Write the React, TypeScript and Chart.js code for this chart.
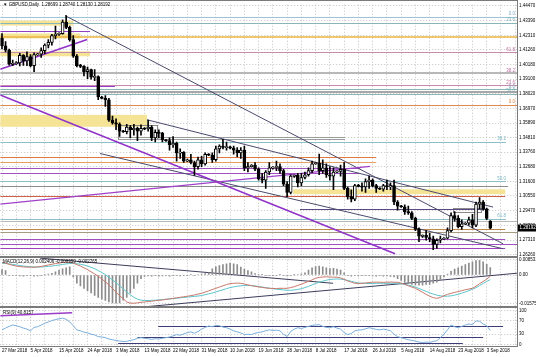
import React, { useEffect, useRef } from 'react';
import { Chart, registerables } from 'chart.js';

Chart.register(...registerables);

// ---------------- data ----------------
const dateTicks = ['27 Mar 2018', '5 Apr 2018', '15 Apr 2018', '24 Apr 2018', '3 May 2018', '13 May 2018', '22 May 2018', '31 May 2018', '10 Jun 2018', '19 Jun 2018', '28 Jun 2018', '8 Jul 2018', '17 Jul 2018', '26 Jul 2018', '5 Aug 2018', '14 Aug 2018', '23 Aug 2018', '3 Sep 2018'];

const opens = [
  1.4212, 1.4155, 1.4124, 1.4021, 1.4026, 1.4030, 1.4085, 1.4044, 1.4076, 1.4010,
  1.4090, 1.4094, 1.4120, 1.4160, 1.4180, 1.4230, 1.4240, 1.4245, 1.4330, 1.4290,
  1.4200, 1.4080, 1.4010, 1.4005, 1.3965, 1.3980, 1.3925, 1.3930, 1.3780, 1.3770,
  1.3760, 1.3610, 1.3590, 1.3580, 1.3530, 1.3525, 1.3560, 1.3540, 1.3550, 1.3530,
  1.3550, 1.3545, 1.3560, 1.3480, 1.3520, 1.3515, 1.3465, 1.3460, 1.3430, 1.3440,
  1.3370, 1.3375, 1.3310, 1.3320, 1.3300, 1.3270, 1.3320, 1.3290, 1.3360, 1.3355,
  1.3320, 1.3400, 1.3420, 1.3410, 1.3415, 1.3405, 1.3390, 1.3370, 1.3390, 1.3260,
  1.3270, 1.3280, 1.3250, 1.3180, 1.3170, 1.3230, 1.3260, 1.3265, 1.3270, 1.3240,
  1.3140, 1.3080, 1.3200, 1.3205, 1.3150, 1.3190, 1.3210, 1.3240, 1.3290, 1.3295,
  1.3240, 1.3260, 1.3210, 1.3200, 1.3230, 1.3235, 1.3250, 1.3110, 1.3050, 1.3030,
  1.3130, 1.3125, 1.3120, 1.3160, 1.3170, 1.3130, 1.3110, 1.3105, 1.3130, 1.3120,
  1.3130, 1.3010, 1.2980, 1.2975, 1.2940, 1.2930, 1.2890, 1.2810, 1.2760, 1.2765,
  1.2750, 1.2740, 1.2700, 1.2730, 1.2740, 1.2745, 1.2800, 1.2910, 1.2890, 1.2830,
  1.2850, 1.2855, 1.2880, 1.2840, 1.2995, 1.3010, 1.2960, 1.28699,
];
const highs = [
  1.4245, 1.4187, 1.4132, 1.4050, 1.4040, 1.4100, 1.4090, 1.4111, 1.4090, 1.4103,
  1.4100, 1.4140, 1.4170, 1.4200, 1.4240, 1.4300, 1.4250, 1.4345, 1.4377, 1.4300,
  1.4230, 1.4090, 1.4020, 1.4010, 1.4000, 1.3985, 1.3980, 1.3935, 1.3785, 1.3790,
  1.3770, 1.3640, 1.3620, 1.3590, 1.3535, 1.3580, 1.3570, 1.3580, 1.3560, 1.3575,
  1.3555, 1.3610, 1.3570, 1.3540, 1.3540, 1.3520, 1.3470, 1.3480, 1.3490, 1.3450,
  1.3400, 1.3380, 1.3325, 1.3360, 1.3310, 1.3340, 1.3345, 1.3370, 1.3365, 1.3370,
  1.3420, 1.3430, 1.3470, 1.3450, 1.3420, 1.3420, 1.3410, 1.3410, 1.3420, 1.3300,
  1.3285, 1.3300, 1.3260, 1.3220, 1.3240, 1.3300, 1.3270, 1.3310, 1.3290, 1.3250,
  1.3160, 1.3210, 1.3210, 1.3220, 1.3220, 1.3230, 1.3260, 1.3310, 1.3300, 1.3362,
  1.3320, 1.3290, 1.3270, 1.3260, 1.3240, 1.3280, 1.3300, 1.3120, 1.3100, 1.3140,
  1.3140, 1.3150, 1.3180, 1.3200, 1.3180, 1.3140, 1.3115, 1.3140, 1.3170, 1.3150,
  1.3170, 1.3020, 1.2985, 1.2990, 1.2980, 1.2940, 1.2900, 1.2820, 1.2770, 1.2800,
  1.2780, 1.2760, 1.2740, 1.2760, 1.2750, 1.2820, 1.2930, 1.2940, 1.2910, 1.2880,
  1.2860, 1.2900, 1.2920, 1.3010, 1.3043, 1.3020, 1.2965, 1.28740,
];
const lows = [
  1.4133, 1.4110, 1.4013, 1.4010, 1.4018, 1.4008, 1.4011, 1.4010, 1.4000, 1.3965,
  1.4085, 1.4070, 1.4098, 1.4140, 1.4160, 1.4205, 1.4232, 1.4240, 1.4280, 1.4190,
  1.4070, 1.4000, 1.3995, 1.3935, 1.3915, 1.3910, 1.3900, 1.3760, 1.3765, 1.3711,
  1.3600, 1.3580, 1.3540, 1.3490, 1.3520, 1.3510, 1.3480, 1.3500, 1.3460, 1.3500,
  1.3540, 1.3530, 1.3460, 1.3450, 1.3480, 1.3450, 1.3455, 1.3390, 1.3410, 1.3310,
  1.3330, 1.3300, 1.3305, 1.3290, 1.3205, 1.3250, 1.3270, 1.3280, 1.3350, 1.3300,
  1.3310, 1.3370, 1.3400, 1.3390, 1.3400, 1.3360, 1.3340, 1.3330, 1.3240, 1.3230,
  1.3265, 1.3240, 1.3170, 1.3150, 1.3110, 1.3210, 1.3250, 1.3240, 1.3220, 1.3130,
  1.3050, 1.3070, 1.3190, 1.3120, 1.3130, 1.3180, 1.3200, 1.3225, 1.3285, 1.3210,
  1.3220, 1.3190, 1.3170, 1.3100, 1.3225, 1.3200, 1.3100, 1.3030, 1.3010, 1.3020,
  1.3120, 1.3090, 1.3080, 1.3110, 1.3120, 1.3080, 1.3100, 1.3090, 1.3100, 1.3100,
  1.2990, 1.2950, 1.2970, 1.2920, 1.2920, 1.2880, 1.2800, 1.2720, 1.2750, 1.2730,
  1.2720, 1.2661, 1.2670, 1.2710, 1.2735, 1.2740, 1.2790, 1.2870, 1.2820, 1.2810,
  1.2845, 1.2840, 1.2820, 1.2830, 1.2960, 1.2950, 1.2880, 1.28130,
];
const closes = [
  1.4155, 1.4124, 1.4021, 1.4026, 1.4030, 1.4085, 1.4044, 1.4076, 1.4010, 1.4090,
  1.4094, 1.4120, 1.4160, 1.4180, 1.4230, 1.4240, 1.4245, 1.4330, 1.4290, 1.4200,
  1.4080, 1.4010, 1.4005, 1.3965, 1.3980, 1.3925, 1.3930, 1.3780, 1.3770, 1.3760,
  1.3610, 1.3590, 1.3580, 1.3530, 1.3525, 1.3560, 1.3540, 1.3550, 1.3530, 1.3550,
  1.3545, 1.3560, 1.3480, 1.3520, 1.3515, 1.3465, 1.3460, 1.3430, 1.3440, 1.3370,
  1.3375, 1.3310, 1.3320, 1.3300, 1.3270, 1.3320, 1.3290, 1.3360, 1.3355, 1.3320,
  1.3400, 1.3420, 1.3410, 1.3415, 1.3405, 1.3390, 1.3370, 1.3390, 1.3260, 1.3270,
  1.3280, 1.3250, 1.3180, 1.3170, 1.3230, 1.3260, 1.3265, 1.3270, 1.3240, 1.3140,
  1.3080, 1.3200, 1.3205, 1.3150, 1.3190, 1.3210, 1.3240, 1.3290, 1.3295, 1.3240,
  1.3260, 1.3210, 1.3200, 1.3230, 1.3235, 1.3250, 1.3110, 1.3050, 1.3030, 1.3130,
  1.3125, 1.3120, 1.3160, 1.3170, 1.3130, 1.3110, 1.3105, 1.3130, 1.3120, 1.3130,
  1.3010, 1.2980, 1.2975, 1.2940, 1.2930, 1.2890, 1.2810, 1.2760, 1.2765, 1.2750,
  1.2740, 1.2700, 1.2730, 1.2740, 1.2745, 1.2800, 1.2910, 1.2890, 1.2830, 1.2850,
  1.2855, 1.2880, 1.2840, 1.2995, 1.3010, 1.2960, 1.2890, 1.28192,
];

const macdHist = [
  0.0030, 0.0025, -0.0003, -0.0004, -0.0002, -0.0005, -0.0006, -0.0004, -0.0003, -0.0007,
  -0.0005, -0.0002, 0.0002, 0.0005, 0.0010, 0.0018, 0.0026, 0.0034, 0.0040, 0.0045,
  -0.0010, -0.0046, -0.0060, -0.0074, -0.0088, -0.0100, -0.0113, -0.0125, -0.0135, -0.0142,
  -0.0150, -0.0155, -0.0157, -0.0155, -0.0140, -0.0125, -0.0100, -0.0074, -0.0045, -0.0020,
  -0.0008, -0.0005, -0.0006, -0.0004, -0.0007, -0.0005, -0.0003, -0.0006, -0.0004, -0.0002,
  -0.0005, -0.0003, -0.0001, 0.0002, -0.0002, 0.0003, 0.0005, 0.0008, 0.0012, 0.0035,
  0.0045, 0.0052, 0.0058, 0.0063, 0.0066, 0.0063, 0.0058, 0.0044, 0.0033, 0.0025,
  0.0018, 0.0008, 0.0004, 0.0002, -0.0002, -0.0004, -0.0003, -0.0001, 0.0002, -0.0003,
  -0.0005, -0.0002, 0.0001, 0.0003, 0.0006, 0.0012, 0.0028, 0.0040, 0.0047, 0.0050,
  0.0045, 0.0040, 0.0036, 0.0038, 0.0033, 0.0028, 0.0012, -0.0004, -0.0006, -0.0003,
  -0.0005, -0.0002, -0.0004, -0.0003, -0.0005, -0.0006, -0.0004, -0.0007, -0.0005, -0.0008,
  -0.0010, -0.0020, -0.0030, -0.0040, -0.0046, -0.0052, -0.0057, -0.0057, -0.0057, -0.0052,
  -0.0052, -0.0045, -0.0040, -0.0025, -0.0010, 0.0005, 0.0020, 0.0033, 0.0040, 0.0050,
  0.0058, 0.0066, 0.0074, 0.0080, 0.0082, 0.0074, 0.0060, 0.0042,
];
const macdMain = [
  0.0071, 0.0066, 0.0060, 0.0054, 0.0050, 0.0047, 0.0045, 0.0044, 0.0044, 0.0043,
  0.0045, 0.0048, 0.0052, 0.0056, 0.0060, 0.0064, 0.0067, 0.0070, 0.0072, 0.0071,
  0.0066, 0.0058, 0.0050, 0.0040, 0.0030, 0.0018, 0.0006, -0.0007, -0.0022, -0.0038,
  -0.0055, -0.0075, -0.0096, -0.0115, -0.0132, -0.0150, -0.0157, -0.0157, -0.0155, -0.0152,
  -0.0150, -0.0148, -0.0146, -0.0143, -0.0141, -0.0139, -0.0136, -0.0133, -0.0130, -0.0127,
  -0.0124, -0.0121, -0.0118, -0.0115, -0.0111, -0.0106, -0.0102, -0.0095, -0.0088, -0.0081,
  -0.0074, -0.0067, -0.0060, -0.0053, -0.0048, -0.0046, -0.0045, -0.0046, -0.0050, -0.0055,
  -0.0059, -0.0063, -0.0066, -0.0069, -0.0072, -0.0074, -0.0075, -0.0075, -0.0074, -0.0074,
  -0.0074, -0.0070, -0.0065, -0.0058, -0.0051, -0.0043, -0.0035, -0.0027, -0.0018, -0.0013,
  -0.0011, -0.0010, -0.0011, -0.0012, -0.0012, -0.0016, -0.0024, -0.0033, -0.0040, -0.0046,
  -0.0047, -0.0046, -0.0044, -0.0042, -0.0040, -0.0040, -0.0040, -0.0041, -0.0040, -0.0039,
  -0.0040, -0.0040, -0.0045, -0.0052, -0.0060, -0.0067, -0.0074, -0.0085, -0.0096, -0.0108,
  -0.0118, -0.0126, -0.0130, -0.0125, -0.0115, -0.0108, -0.0102, -0.0097, -0.0092, -0.0087,
  -0.0082, -0.0078, -0.0074, -0.0062, -0.0048, -0.0036, -0.0023, -0.0007,
];
const macdSignal = [
  0.0066, 0.0064, 0.0062, 0.0059, 0.0056, 0.0053, 0.0050, 0.0048, 0.0046, 0.0045,
  0.0045, 0.0045, 0.0046, 0.0048, 0.0050, 0.0053, 0.0056, 0.0059, 0.0062, 0.0064,
  0.0065, 0.0063, 0.0060, 0.0056, 0.0050, 0.0043, 0.0035, 0.0025, 0.0014, 0.0002,
  -0.0012, -0.0027, -0.0043, -0.0060, -0.0077, -0.0094, -0.0110, -0.0124, -0.0134, -0.0140,
  -0.0142, -0.0142, -0.0141, -0.0140, -0.0139, -0.0137, -0.0135, -0.0133, -0.0131, -0.0129,
  -0.0127, -0.0125, -0.0123, -0.0121, -0.0119, -0.0117, -0.0114, -0.0110, -0.0105, -0.0100,
  -0.0094, -0.0088, -0.0082, -0.0076, -0.0070, -0.0066, -0.0062, -0.0060, -0.0058, -0.0058,
  -0.0059, -0.0061, -0.0064, -0.0067, -0.0070, -0.0073, -0.0076, -0.0079, -0.0081, -0.0083,
  -0.0085, -0.0085, -0.0083, -0.0080, -0.0076, -0.0070, -0.0063, -0.0055, -0.0047, -0.0040,
  -0.0034, -0.0029, -0.0025, -0.0023, -0.0022, -0.0023, -0.0026, -0.0030, -0.0035, -0.0040,
  -0.0044, -0.0046, -0.0047, -0.0047, -0.0047, -0.0046, -0.0046, -0.0046, -0.0046, -0.0046,
  -0.0046, -0.0046, -0.0048, -0.0052, -0.0056, -0.0061, -0.0068, -0.0075, -0.0083, -0.0091,
  -0.0099, -0.0106, -0.0112, -0.0116, -0.0118, -0.0118, -0.0116, -0.0112, -0.0107, -0.0101,
  -0.0094, -0.0087, -0.0079, -0.0070, -0.0059, -0.0047, -0.0036, -0.0025,
];
const rsiValues = [
  43, 48, 53, 57, 55, 52, 48, 45, 40, 50,
  52, 57, 62, 66, 70, 73, 75, 77, 74, 66,
  55, 43, 40, 36, 34, 30, 28, 23, 22, 20,
  16, 14, 12, 10, 9, 9, 12, 14, 18, 20,
  18, 17, 15, 17, 16, 18, 20, 22, 25, 29,
  27, 31, 35, 37, 33, 38, 45, 50, 54, 52,
  56, 55, 51, 49, 45, 40, 37, 34, 29, 30,
  29, 33, 35, 37, 40, 43, 41, 42, 40, 30,
  23, 38, 45, 49, 47, 50, 53, 56, 57, 58,
  53, 50, 49, 52, 48, 45, 35, 29, 32, 40,
  42, 43, 46, 49, 47, 44, 43, 45, 43, 40,
  30, 23, 20, 17, 14, 12, 10, 7, 6, 7,
  6, 9, 11, 20, 30, 43, 57, 52, 49, 53,
  57, 60, 58, 69, 68, 60, 55, 41,
];

const priceTicks = [1.4447, 1.4339, 1.4231, 1.4126, 1.4018, 1.391, 1.3802, 1.3697, 1.3589, 1.3481, 1.3376, 1.3268, 1.316, 1.3055, 1.2947, 1.2839, 1.2731, 1.2626];
const macdTicks = [0.008531, 0, -0.015751];
const rsiTicks = [100, 70, 30, 0];

// labelled (fibonacci) levels: price, text, last bar covered
const fibPrices = [1.43692, 1.43255, 1.41074, 1.39546, 1.38674, 1.38383, 1.38019, 1.37219, 1.34528, 1.31619, 1.28856];
const fibTexts = ['0.0', '23.6', '61.8', '38.2', '23.6', '0.0', '50.0', '0.0', '38.2', '50.0', '61.8'];
const fibEndBar = [144.5, 144.5, 144.5, 144.5, 144.5, 144.5, 144.5, 144.5, 141.4, 141.4, 141.4];

// plain horizontal lines: price, first bar, last bar
const linePrices = [1.42164, 1.38165, 1.31256, 1.30529, 1.28710, 1.28129, 1.27910, 1.27401, 1.27038, 1.26747, 1.42672, 1.38640, 1.34892, 1.34747, 1.33437, 1.33001, 1.32565, 1.32201, 1.29583];
const lineFromBar = [-0.5, -0.5, -0.5, -0.5, -0.5, -0.5, -0.5, -0.5, -0.5, -0.5, -0.5, -0.5, 32.6, 32.6, -0.5, -0.5, -0.5, -0.5, 83.6];
const lineToBar = [144.5, 144.5, 142, 141.2, 144.5, 141.2, 144.5, 141.2, 144.5, 141.2, 24.7, 31.7, 96.2, 96.2, 105, 105, 100.5, 100.5, 136.6];

// supply / demand zones
const zoneFromBar = [-0.5, -0.5, -0.5, -0.5, 81.7];
const zoneToBar = [20, 22, 24.7, 40.7, 141.2];
const zoneLow = [1.43037, 1.42092, 1.40783, 1.35619, 1.30674];
const zoneHigh = [1.43401, 1.42455, 1.41146, 1.36492, 1.31037];

// outlined boxes
const boxFromBar = [32.6, 126.5];
const boxToBar = [43.5, 134.4];
const boxLow = [1.3475, 1.2937];
const boxHigh = [1.3575, 1.2966];

// trend lines on price
const trendFromBar = [17.7, 40.7, 27.5, -0.5, -0.5, -0.5];
const trendFromPrice = [1.43765, 1.36128, 1.33656, 1.37939, 1.39833, 1.29946];
const trendToBar = [140.6, 137.8, 140.6, 110.3, 23.9, 103.3];
const trendToPrice = [1.27038, 1.29728, 1.26674, 1.26310, 1.42015, 1.32710];

// trend lines on MACD
const macdLineFromBar = [10.7, 39.6];
const macdLineFromVal = [0.0094, -0.0178];
const macdLineToBar = [92.9, 144.5];
const macdLineToVal = [-0.0046, 0.0010];

// lines on RSI
const rsiLineFromBar = [-0.5, 43.8, 38, 32.6];
const rsiLineFromVal = [83.8, 54.4, 22.1, 4.4];
const rsiLineToBar = [19.7, 140.6, 135, 129.3];
const rsiLineToVal = [92.7, 54.4, 22.1, 4.4];

// ---------------- styles ----------------
const fibColors = ['#9cc4d8', '#8ab6b8', '#c88cb0', '#b8b8b8', '#c88cb0', '#8ab6b8', '#8ab6b8', '#dc8c50', '#8cc0c8', '#8cc0c8', '#8cc0c8'];
const fibTextColors = ['#7aaec0', '#7aaeb0', '#c070a0', '#c070a0', '#c070a0', '#7a9eb0', '#7aaeb0', '#d88040', '#7ab8c0', '#7ab8c0', '#7ab8c0'];
const fibWidths = [1, 1, 1, 2, 1, 1, 1, 1, 1, 1, 1];
const lineColors = ['#e8b440', '#a8a8a8', '#8c8c8c', '#d06048', '#b8b8b8', '#c08848', '#a89c80', '#a050c0', '#a050c0', '#a040c0', '#9040c0', '#9040c0', '#9c9c9c', '#9c9c9c', '#e07a40', '#e8a060', '#a050c0', '#a050c0', '#5a4a80'];
const lineWidths = [1.5, 2, 1, 1, 1, 1, 1, 1, 1, 1, 1, 1, 1, 1, 1, 1, 1, 1, 1];
const trendColors = ['#4a4a6e', '#4a4a6e', '#4a4a6e', '#9033c8', '#9033c8', '#a040c8'];
const trendWidths = [1, 1, 1, 1.6, 1.6, 1.2];
const rsiLineColors = ['#9a3cc8', '#3c3c78', '#3c3c78', '#3c3c78'];

const W = 536;
const H = 357;
const SLOTS = 145;
const FONT = '"Liberation Sans", Arial, sans-serif';
const FS = 4.5;

export default function App() {
  const ref = useRef<HTMLCanvasElement | null>(null);

  useEffect(() => {
    document.body.style.margin = '0';
    const canvas = ref.current;
    if (!canvas) return;
    const labels = Array.from({ length: SLOTS }, (_, i) => String(i));
    const pad = (arr: any[]) => arr.concat(Array(SLOTS - arr.length).fill(null));

    const wicks = lows.map((l, i) => [l, highs[i]]);
    const bodies = opens.map((o, i) => {
      const c = closes[i];
      let lo = Math.min(o, c);
      let hi = Math.max(o, c);
      if (hi - lo < 0.0008) {
        const mid = (hi + lo) / 2;
        lo = mid - 0.0004;
        hi = mid + 0.0004;
      }
      return [lo, hi];
    });
    const bodyColors = opens.map((o, i) => (closes[i] >= o ? '#ffffff' : '#000000'));

    const crisp = (v: number, w: number) => (Math.round(w) % 2 === 1 ? Math.round(v) + 0.5 : Math.round(v));

    const overlay = {
      id: 'mt4overlay',
      beforeDatasetsDraw(chart: any) {
        const { ctx, chartArea } = chart;
        const xs = chart.scales.x;
        const ys = chart.scales.y;
        const ms = chart.scales.macd;
        const rs = chart.scales.rsi;
        const X = (i: number) => xs.getPixelForValue(i);
        const clip = (sc: any) => {
          ctx.save();
          ctx.beginPath();
          ctx.rect(chartArea.left, sc.top, chartArea.right - chartArea.left, sc.bottom - sc.top);
          ctx.clip();
        };
        const seg = (x1: number, y1: number, x2: number, y2: number, color: string, w: number) => {
          ctx.strokeStyle = color;
          ctx.lineWidth = w;
          ctx.beginPath();
          ctx.moveTo(x1, y1);
          ctx.lineTo(x2, y2);
          ctx.stroke();
        };

        // ---- main panel ----
        clip(ys);
        ctx.fillStyle = '#f5e396';
        zoneLow.forEach((lo, k) => {
          const x1 = X(zoneFromBar[k]);
          const x2 = X(zoneToBar[k]);
          const y1 = ys.getPixelForValue(zoneHigh[k]);
          const y2 = ys.getPixelForValue(lo);
          ctx.fillRect(x1, y1, x2 - x1, y2 - y1);
        });
        boxLow.forEach((lo, k) => {
          const x1 = Math.round(X(boxFromBar[k])) + 0.5;
          const x2 = Math.round(X(boxToBar[k])) + 0.5;
          const y1 = Math.round(ys.getPixelForValue(boxHigh[k])) + 0.5;
          const y2 = Math.round(ys.getPixelForValue(lo)) + 0.5;
          ctx.strokeStyle = '#8a8a8a';
          ctx.lineWidth = 1;
          ctx.strokeRect(x1, y1, x2 - x1, y2 - y1);
        });
        linePrices.forEach((p, k) => {
          const y = crisp(ys.getPixelForValue(p), lineWidths[k]);
          seg(X(lineFromBar[k]), y, X(lineToBar[k]), y, lineColors[k], lineWidths[k]);
        });
        fibPrices.forEach((p, k) => {
          const y = crisp(ys.getPixelForValue(p), fibWidths[k]);
          seg(chartArea.left, y, X(fibEndBar[k]), y, fibColors[k], fibWidths[k]);
        });
        trendFromBar.forEach((b, k) => {
          seg(X(b), ys.getPixelForValue(trendFromPrice[k]), X(trendToBar[k]), ys.getPixelForValue(trendToPrice[k]), trendColors[k], trendWidths[k]);
        });
        ctx.restore();

        // ---- MACD panel ----
        clip(ms);
        macdLineFromBar.forEach((b, k) => {
          seg(X(b), ms.getPixelForValue(macdLineFromVal[k]), X(macdLineToBar[k]), ms.getPixelForValue(macdLineToVal[k]), '#3c3c5c', 1);
        });
        ctx.restore();

        // ---- RSI panel ----
        clip(rs);
        rsiLineFromBar.forEach((b, k) => {
          const y1 = rs.getPixelForValue(rsiLineFromVal[k]);
          const y2 = rs.getPixelForValue(rsiLineToVal[k]);
          const flat = rsiLineFromVal[k] === rsiLineToVal[k];
          seg(X(b), flat ? crisp(y1, 1) : y1, X(rsiLineToBar[k]), flat ? crisp(y2, 1) : y2, rsiLineColors[k], k === 0 ? 1.5 : 1);
        });
        ctx.restore();
      },
      afterDraw(chart: any) {
        const { ctx, chartArea } = chart;
        const xs = chart.scales.x;
        const ys = chart.scales.y;
        const ms = chart.scales.macd;
        const rs = chart.scales.rsi;
        ctx.save();
        // fib labels
        ctx.font = `${FS}px ${FONT}`;
        ctx.textAlign = 'right';
        ctx.textBaseline = 'bottom';
        fibPrices.forEach((p, k) => {
          const y = ys.getPixelForValue(p);
          const xe = Math.min(xs.getPixelForValue(fibEndBar[k]), chartArea.right - 2);
          ctx.fillStyle = fibTextColors[k];
          ctx.fillText(fibTexts[k], xe, y - 0.5);
        });
        // frame & separators
        ctx.fillStyle = '#7a7a7a';
        ctx.fillRect(0, 0, chartArea.right, 1);
        ctx.fillRect(0, Math.round(ys.bottom) - 1, chartArea.right + 1, 2);
        ctx.fillRect(0, Math.round(ms.bottom) - 1, chartArea.right + 1, 2);
        ctx.fillRect(0, Math.round(rs.bottom), chartArea.right + 1, 1);
        ctx.fillRect(Math.round(chartArea.right), 0, 1, Math.round(rs.bottom) + 1);
        // current price box
        const N2 = closes.length;
        const py = Math.round(ys.getPixelForValue(closes[N2 - 1]));
        ctx.fillStyle = '#000000';
        ctx.fillRect(chartArea.right + 1, py - 3.5, W - chartArea.right - 1, 7);
        ctx.fillStyle = '#ffffff';
        ctx.textAlign = 'left';
        ctx.textBaseline = 'middle';
        ctx.fillText(closes[N2 - 1].toFixed(5), chartArea.right + 2.5, py);
        // titles
        ctx.fillStyle = '#000000';
        ctx.fillText(`\u25BC GBPUSD,Daily  ${opens[N2 - 1].toFixed(5)} ${highs[N2 - 1].toFixed(5)} ${lows[N2 - 1].toFixed(5)} ${closes[N2 - 1].toFixed(5)}`, 3, 4.5);
        ctx.fillText('MACD(12,26,9) 0.002406 -0.000359 -0.002765', 3, ms.top + 4.5);
        ctx.fillText('RSI(9) 40.8157', 3, rs.top + 5);
        ctx.restore();
      },
    };

    const tickFont = { family: FONT, size: FS };
    const gridCol = '#c4c4c4';

    const chart = new Chart(canvas, {
      type: 'bar',
      data: {
        labels,
        datasets: [
          { type: 'bar', data: pad(macdHist), yAxisID: 'macd', backgroundColor: '#8c8c8c', barThickness: 1, grouped: false, order: 5 } as any,
          { type: 'bar', data: pad(wicks), yAxisID: 'y', backgroundColor: '#000000', barThickness: 1, grouped: false, order: 4 } as any,
          { type: 'bar', data: pad(bodies), yAxisID: 'y', backgroundColor: bodyColors, borderColor: '#000000', borderWidth: 1, borderSkipped: false, barThickness: 3, grouped: false, order: 3 } as any,
          { type: 'line', data: pad(macdSignal), yAxisID: 'macd', borderColor: '#5cc4cc', borderWidth: 1, pointRadius: 0, tension: 0, order: 2 } as any,
          { type: 'line', data: pad(macdMain), yAxisID: 'macd', borderColor: '#c8786a', borderWidth: 1, pointRadius: 0, tension: 0, order: 1 } as any,
          { type: 'line', data: pad(rsiValues), yAxisID: 'rsi', borderColor: '#7aaedc', borderWidth: 1, pointRadius: 0, tension: 0, order: 0 } as any,
        ],
      },
      options: {
        animation: false,
        responsive: false,
        maintainAspectRatio: false,
        events: [],
        layout: { padding: { top: 2, left: 0, right: 0, bottom: 0 } },
        plugins: { legend: { display: false }, tooltip: { enabled: false }, title: { display: false } },
        scales: {
          x: {
            type: 'category',
            position: 'bottom',
            offset: true,
            grid: { offset: false, color: gridCol, lineWidth: 1, drawTicks: false },
            border: { display: false, dash: [1, 2] },
            ticks: {
              autoSkip: false,
              maxRotation: 0,
              minRotation: 0,
              align: 'start',
              padding: 2,
              font: tickFont,
              color: '#000000',
              callback: (v: any) => {
                const i = Number(v);
                return i % 8 === 0 && i / 8 < dateTicks.length ? dateTicks[i / 8] : '';
              },
            },
            afterBuildTicks: (s: any) => {
              s.ticks = s.ticks.filter((t: any) => t.value % 4 === 0);
            },
            afterFit: (s: any) => {
              s.height = 11;
            },
          },
          y: {
            type: 'linear',
            axis: 'y',
            position: 'right',
            stack: 'panes',
            stackWeight: 254.5,
            weight: 0,
            min: 1.26055,
            max: 1.44565,
            bounds: 'data',
            beginAtZero: false,
            grid: { color: gridCol, drawTicks: false },
            border: { display: false, dash: [1, 2] },
            ticks: { autoSkip: false, padding: 2, font: tickFont, color: '#000000', callback: (v: any) => Number(v).toFixed(5) },
            afterBuildTicks: (s: any) => {
              s.ticks = priceTicks.map((v) => ({ value: v }));
            },
            afterFit: (s: any) => {
              s.width = 19;
            },
          },
          macd: {
            type: 'linear',
            axis: 'y',
            position: 'right',
            stack: 'panes',
            stackWeight: 50.5,
            weight: 0,
            min: -0.01798,
            max: 0.00993,
            bounds: 'data',
            beginAtZero: false,
            grid: { color: gridCol, drawTicks: false },
            border: { display: false, dash: [1, 2] },
            ticks: { autoSkip: false, padding: 2, font: tickFont, color: '#000000', callback: (v: any) => (Number(v) === 0 ? '0.00' : Number(v).toFixed(6)) },
            afterBuildTicks: (s: any) => {
              s.ticks = macdTicks.map((v) => ({ value: v }));
            },
            afterFit: (s: any) => {
              s.width = 19;
            },
          },
          rsi: {
            type: 'linear',
            axis: 'y',
            position: 'right',
            stack: 'panes',
            stackWeight: 39,
            weight: 0,
            min: -4.4,
            max: 108.8,
            bounds: 'data',
            beginAtZero: false,
            grid: { color: gridCol, drawTicks: false },
            border: { display: false, dash: [1, 2] },
            ticks: { autoSkip: false, padding: 2, font: tickFont, color: '#000000', callback: (v: any) => String(v) },
            afterBuildTicks: (s: any) => {
              s.ticks = rsiTicks.map((v) => ({ value: v }));
            },
            afterFit: (s: any) => {
              s.width = 19;
            },
          },
        } as any,
      },
      plugins: [overlay],
    } as any);

    return () => chart.destroy();
  }, []);

  return (
    <canvas
      ref={ref}
      width={W}
      height={H}
      style={{ position: 'fixed', left: 0, top: 0, width: W, height: H, display: 'block', background: '#ffffff' }}
    />
  );
}
